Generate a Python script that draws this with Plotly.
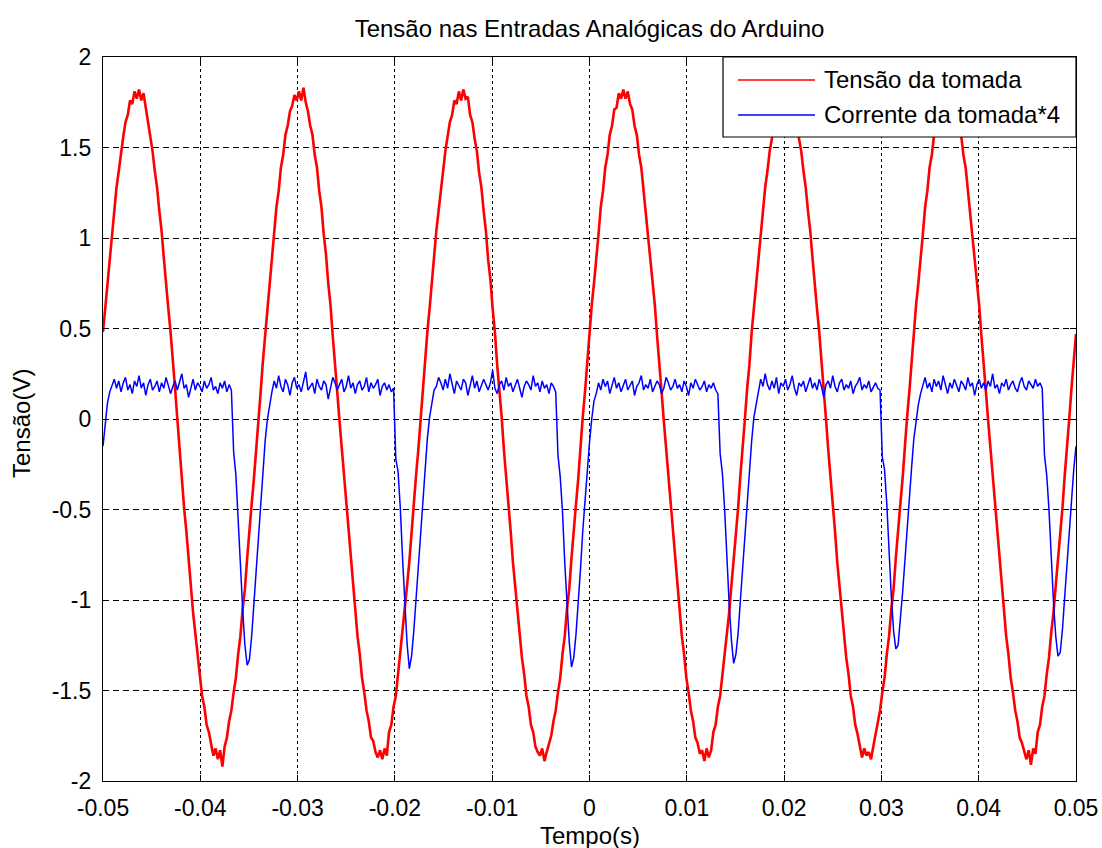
import numpy as np
import plotly.graph_objects as go

# ---------------- text ----------------
title_text = "Tensão nas Entradas Analógicas do Arduino"
x_label = "Tempo(s)"
y_label = "Tensão(V)"
series_names = ["Tensão da tomada", "Corrente da tomada*4"]

x_tick_vals = [-0.05, -0.04, -0.03, -0.02, -0.01, 0.0, 0.01, 0.02, 0.03, 0.04, 0.05]
x_tick_text = ["-0.05", "-0.04", "-0.03", "-0.02", "-0.01", "0", "0.01", "0.02", "0.03", "0.04", "0.05"]
y_tick_vals = [-2, -1.5, -1, -0.5, 0, 0.5, 1, 1.5, 2]
y_tick_text = ["-2", "-1.5", "-1", "-0.5", "0", "0.5", "1", "1.5", "2"]

t_start = -0.05
t_end = 0.05

# ---------------- data (equally spaced samples) ----------------
tensao_pre = [0.48, 0.61, 0.77, 0.90, 1.04, 1.15, 1.28, 1.37, 1.48, 1.56, 1.64, 1.68, 1.76, 1.74, 1.81]
tensao_c1 = [1.77, 1.82, 1.76, 1.80, 1.72,
             1.64, 1.55, 1.48, 1.37, 1.28, 1.15, 1.04, 0.89, 0.77, 0.61, 0.48, 0.30, 0.17,
             0.00, -0.17, -0.31, -0.49, -0.62, -0.79, -0.92, -1.07, -1.18, -1.32, -1.41, -1.53, -1.59, -1.69, -1.73, -1.80, -1.86, -1.82,
             -1.88, -1.83, -1.92, -1.81, -1.76, -1.67, -1.61, -1.51, -1.43, -1.30, -1.20, -1.05, -0.94, -0.77, -0.64, -0.47, -0.33, -0.15,
             0.01, 0.15, 0.32, 0.46, 0.63, 0.75, 0.91, 1.02, 1.17, 1.26, 1.39, 1.46, 1.57, 1.62, 1.70, 1.73, 1.79, 1.76]
tensao_c2 = [1.81, 1.76, 1.83, 1.75, 1.70,
             1.62, 1.57, 1.46, 1.39, 1.26, 1.17, 1.02, 0.91, 0.75, 0.63, 0.46, 0.32, 0.15,
             -0.01, -0.16, -0.33, -0.47, -0.64, -0.77, -0.94, -1.05, -1.20, -1.30, -1.43, -1.51, -1.61, -1.67, -1.76, -1.78, -1.84, -1.87,
             -1.83, -1.88, -1.82, -1.86, -1.73, -1.69, -1.59, -1.53, -1.41, -1.32, -1.18, -1.07, -0.92, -0.79, -0.62, -0.49, -0.31, -0.17,
             0.00, 0.17, 0.30, 0.48, 0.61, 0.77, 0.89, 1.04, 1.15, 1.28, 1.37, 1.48, 1.55, 1.64, 1.68, 1.76, 1.74, 1.81]
tensao_c3 = [1.76, 1.82, 1.77, 1.78, 1.68,
             1.64, 1.55, 1.48, 1.36, 1.28, 1.15, 1.04, 0.88, 0.77, 0.61, 0.48, 0.30, 0.17,
             0.01, -0.17, -0.31, -0.49, -0.62, -0.79, -0.92, -1.07, -1.18, -1.32, -1.41, -1.53, -1.59, -1.69, -1.73, -1.81, -1.84, -1.86,
             -1.82, -1.89, -1.84, -1.80, -1.75, -1.67, -1.61, -1.51, -1.43, -1.30, -1.20, -1.05, -0.94, -0.77, -0.64, -0.47, -0.33, -0.15,
             0.01, 0.15, 0.32, 0.46, 0.63, 0.75, 0.91, 1.02, 1.17, 1.26, 1.39, 1.46, 1.57, 1.62, 1.71, 1.72, 1.80, 1.77]
tensao_c4 = [1.82, 1.77, 1.81, 1.74, 1.71,
             1.62, 1.57, 1.46, 1.39, 1.26, 1.17, 1.02, 0.91, 0.75, 0.63, 0.46, 0.32, 0.15,
             -0.01, -0.16, -0.33, -0.47, -0.64, -0.77, -0.94, -1.05, -1.20, -1.30, -1.43, -1.51, -1.61, -1.67, -1.76, -1.79, -1.85, -1.83,
             -1.89, -1.82, -1.87, -1.83, -1.73, -1.69, -1.59, -1.53, -1.41, -1.32, -1.18, -1.07, -0.92, -0.79, -0.62, -0.49, -0.31, -0.17,
             0.00, 0.17, 0.30, 0.48, 0.61, 0.77, 0.89, 1.04, 1.15, 1.28, 1.37, 1.48, 1.55, 1.64, 1.68, 1.76, 1.75, 1.80]
tensao_c5 = [1.77, 1.81, 1.76, 1.77, 1.69,
             1.64, 1.55, 1.48, 1.37, 1.28, 1.15, 1.04, 0.89, 0.77, 0.61, 0.48, 0.30, 0.17,
             0.00, -0.17, -0.31, -0.49, -0.62, -0.79, -0.92, -1.07, -1.18, -1.32, -1.41, -1.53, -1.59, -1.69, -1.74, -1.80, -1.87, -1.82,
             -1.86, -1.84, -1.88, -1.81, -1.75, -1.67, -1.61, -1.51, -1.43, -1.30, -1.20, -1.05, -0.94, -0.77, -0.64, -0.47, -0.33, -0.15,
             0.01, 0.15, 0.32, 0.46, 0.63, 0.75, 0.91, 1.02, 1.17, 1.26, 1.39, 1.46, 1.57, 1.62, 1.70, 1.73, 1.78, 1.77]
tensao_c6 = [1.81, 1.76, 1.82, 1.75, 1.70,
             1.62, 1.57, 1.46, 1.39, 1.26, 1.17, 1.02, 0.91, 0.75, 0.63, 0.46, 0.32, 0.15,
             -0.01, -0.16, -0.33, -0.47, -0.64, -0.77, -0.94, -1.05, -1.20, -1.30, -1.43, -1.51, -1.61, -1.67, -1.76, -1.79, -1.84, -1.88,
             -1.83, -1.91, -1.82, -1.85, -1.73, -1.69, -1.59, -1.53, -1.41, -1.32, -1.18, -1.07, -0.92, -0.79, -0.62, -0.49, -0.31, -0.17,
             0.00, 0.17, 0.30, 0.47]

corrente_pre = [-0.15, -0.01, 0.09, 0.15]
corrente_p1 = [0.19, 0.22, 0.17, 0.21, 0.15, 0.20, 0.23, 0.16, 0.19, 0.14, 0.21, 0.18, 0.24, 0.17, 0.20, 0.13, 0.19, 0.22,
               0.16, 0.18, 0.21, 0.15, 0.20, 0.17, 0.23, 0.19, 0.14, 0.18, 0.21, 0.16, 0.20, 0.25, 0.17, 0.19, 0.12, 0.18,
               0.22, 0.16, 0.20, 0.18, 0.15, 0.21, 0.17, 0.19, 0.23, 0.16, 0.18, 0.14, 0.20, 0.17, 0.21, 0.15, 0.19, 0.16]
corrente_d1 = [-0.18, -0.31, -0.52, -0.80, -1.05, -1.25, -1.36, -1.33, -1.20, -1.01, -0.84, -0.63, -0.46, -0.29, -0.12, 0.00, 0.09, 0.15]
corrente_p2 = [0.21, 0.17, 0.24, 0.18, 0.15, 0.22, 0.19, 0.13, 0.20, 0.23, 0.17, 0.19, 0.15, 0.21, 0.26, 0.16, 0.18, 0.20,
               0.14, 0.22, 0.18, 0.16, 0.21, 0.19, 0.11, 0.17, 0.23, 0.20, 0.16, 0.19, 0.22, 0.15, 0.18, 0.24, 0.17, 0.20,
               0.14, 0.19, 0.21, 0.16, 0.18, 0.23, 0.15, 0.20, 0.17, 0.19, 0.22, 0.13, 0.18, 0.20, 0.16, 0.19, 0.15, 0.17]
corrente_d2 = [-0.22, -0.29, -0.49, -0.77, -1.03, -1.24, -1.38, -1.31, -1.17, -0.99, -0.81, -0.61, -0.44, -0.27, -0.11, 0.01, 0.08, 0.16]
corrente_p3 = [0.18, 0.23, 0.20, 0.16, 0.22, 0.17, 0.25, 0.19, 0.14, 0.21, 0.18, 0.16, 0.22, 0.20, 0.13, 0.19, 0.24, 0.17,
               0.21, 0.15, 0.18, 0.22, 0.19, 0.16, 0.20, 0.27, 0.17, 0.14, 0.19, 0.21, 0.16, 0.23, 0.18, 0.20, 0.15, 0.19,
               0.22, 0.17, 0.12, 0.18, 0.21, 0.19, 0.16, 0.24, 0.18, 0.20, 0.15, 0.21, 0.17, 0.19, 0.14, 0.20, 0.18, 0.15]
corrente_d3 = [-0.20, -0.32, -0.51, -0.79, -1.04, -1.23, -1.37, -1.32, -1.19, -1.02, -0.83, -0.62, -0.45, -0.28, -0.13, 0.00, 0.10, 0.14]
corrente_p4 = [0.20, 0.16, 0.22, 0.18, 0.21, 0.14, 0.19, 0.23, 0.17, 0.20, 0.15, 0.18, 0.22, 0.16, 0.19, 0.21, 0.13, 0.18,
               0.20, 0.24, 0.16, 0.19, 0.17, 0.22, 0.15, 0.18, 0.21, 0.19, 0.14, 0.17, 0.23, 0.20, 0.16, 0.18, 0.22, 0.17,
               0.19, 0.15, 0.21, 0.18, 0.13, 0.20, 0.17, 0.22, 0.19, 0.16, 0.18, 0.21, 0.15, 0.19, 0.17, 0.20, 0.16, 0.14]
corrente_d4 = [-0.19, -0.30, -0.50, -0.78, -1.02, -1.22, -1.35, -1.30, -1.18, -1.00, -0.82, -0.61, -0.46, -0.27, -0.12, 0.01, 0.09, 0.15]
corrente_p5 = [0.22, 0.18, 0.25, 0.19, 0.16, 0.21, 0.17, 0.23, 0.14, 0.20, 0.18, 0.22, 0.16, 0.19, 0.24, 0.17, 0.13, 0.20,
               0.18, 0.21, 0.15, 0.19, 0.23, 0.17, 0.20, 0.16, 0.22, 0.18, 0.12, 0.19, 0.21, 0.17, 0.24, 0.18, 0.15, 0.20,
               0.22, 0.16, 0.19, 0.17, 0.21, 0.14, 0.18, 0.20, 0.23, 0.16, 0.19, 0.17, 0.21, 0.15, 0.18, 0.20, 0.17, 0.16]
corrente_d5 = [-0.21, -0.28, -0.47, -0.74, -0.98, -1.17, -1.27, -1.25, -1.12, -0.96, -0.79, -0.60, -0.43, -0.27, -0.11, 0.00, 0.08, 0.14]
corrente_p6 = [0.19, 0.23, 0.17, 0.20, 0.15, 0.22, 0.18, 0.21, 0.16, 0.24, 0.19, 0.14, 0.20, 0.17, 0.22, 0.18, 0.15, 0.21,
               0.19, 0.16, 0.23, 0.18, 0.20, 0.13, 0.19, 0.22, 0.17, 0.20, 0.16, 0.21, 0.18, 0.25, 0.17, 0.19, 0.14, 0.20,
               0.18, 0.22, 0.16, 0.19, 0.21, 0.17, 0.15, 0.20, 0.23, 0.18, 0.16, 0.21, 0.19, 0.17, 0.22, 0.18, 0.20, 0.17]
corrente_d6 = [-0.20, -0.31, -0.50, -0.77, -1.01, -1.20, -1.31, -1.29, -1.16, -0.98, -0.80, -0.60, -0.44, -0.28, -0.15]

tensao = tensao_pre + tensao_c1 + tensao_c2 + tensao_c3 + tensao_c4 + tensao_c5 + tensao_c6
corrente = (corrente_pre + corrente_p1 + corrente_d1 + corrente_p2 + corrente_d2 + corrente_p3 + corrente_d3
            + corrente_p4 + corrente_d4 + corrente_p5 + corrente_d5 + corrente_p6 + corrente_d6)

t_tensao = np.linspace(t_start, t_end, len(tensao))
t_corrente = np.linspace(t_start, t_end, len(corrente))

# ---------------- layout geometry (pixels) ----------------
W, H = 1102, 848
L, R, T, B = 103, 1076, 57, 781
PW, PH = R - L, B - T
FONT = "Liberation Sans, Arial, Helvetica, sans-serif"


def px(x):
    return (x - L) / PW


def py(y):
    return (B - y) / PH


fig = go.Figure()
fig.add_trace(go.Scatter(x=t_tensao, y=tensao, mode="lines", name=series_names[0],
                         line=dict(color="#ff0000", width=2.6), showlegend=False))
fig.add_trace(go.Scatter(x=t_corrente, y=corrente, mode="lines", name=series_names[1],
                         line=dict(color="#0000ff", width=1.5), showlegend=False))

axis_common = dict(
    showline=True, linecolor="black", linewidth=1.2, mirror="ticks",
    ticks="inside", ticklen=6, tickcolor="black", tickwidth=1,
    showgrid=True, gridcolor="black",
    zeroline=False, automargin=False,
    tickfont=dict(family=FONT, size=23, color="black"),
)

fig.update_xaxes(range=[t_start, t_end], tickmode="array", tickvals=x_tick_vals, ticktext=x_tick_text,
                 griddash="3px,3px", gridwidth=1.4, ticklabelstandoff=6, **axis_common)
fig.update_yaxes(range=[-2, 2], tickmode="array", tickvals=y_tick_vals, ticktext=y_tick_text,
                 griddash="6px,4px", gridwidth=1.3, ticklabelstandoff=6, **axis_common)

# legend box drawn by hand (MATLAB style)
leg_x0, leg_x1, leg_y0, leg_y1 = 723, 1076, 57, 137
row_y = [80, 115]
line_x0, line_x1, text_x = 738, 815, 822
colors = ["#ff0000", "#0000ff"]

shapes = [dict(type="rect", xref="paper", yref="paper", x0=px(leg_x0), x1=px(leg_x1), y0=py(leg_y1), y1=py(leg_y0),
               fillcolor="white", line=dict(color="black", width=1.2), layer="above")]
annotations = []
for name, c, yy in zip(series_names, colors, row_y):
    shapes.append(dict(type="line", xref="paper", yref="paper", x0=px(line_x0), x1=px(line_x1), y0=py(yy), y1=py(yy),
                       line=dict(color=c, width=1.5), layer="above"))
    annotations.append(dict(text=name, xref="paper", yref="paper", x=px(text_x), y=py(yy), xanchor="left",
                            yanchor="middle", showarrow=False, font=dict(family=FONT, size=24, color="black")))

annotations.append(dict(text=x_label, xref="paper", yref="paper", x=0.5, y=py(835), xanchor="center",
                        yanchor="middle", showarrow=False, font=dict(family=FONT, size=24, color="black")))
annotations.append(dict(text=y_label, xref="paper", yref="paper", x=px(22), y=py(424), xanchor="center",
                        yanchor="middle", textangle=-90, showarrow=False,
                        font=dict(family=FONT, size=24, color="black")))

fig.update_layout(
    template="none",
    width=W, height=H,
    margin=dict(l=L, r=W - R, t=T, b=H - B, pad=0),
    paper_bgcolor="white", plot_bgcolor="white",
    title=dict(text=title_text, x=(L + R) / 2 / W, xref="container", y=1 - 29 / H,
               yref="container", xanchor="center", yanchor="middle",
               font=dict(family=FONT, size=24, color="black")),
    shapes=shapes,
    annotations=annotations,
    showlegend=False,
)

fig.write_html("out.html")
